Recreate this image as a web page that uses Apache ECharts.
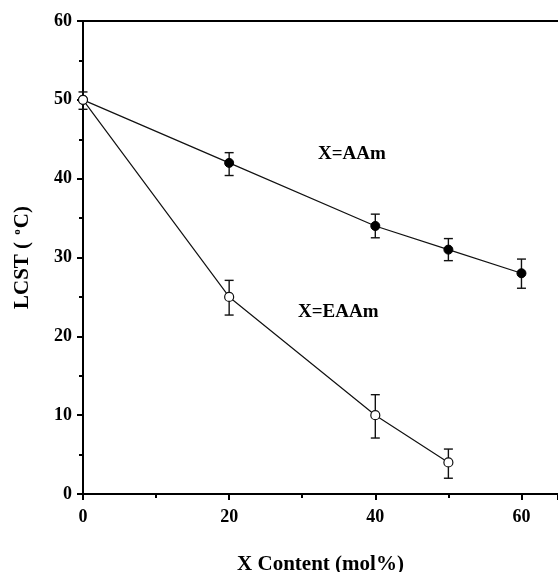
<!DOCTYPE html>
<html>
<head>
<meta charset="utf-8">
<script src="https://cdn.jsdelivr.net/npm/echarts@6/dist/echarts.min.js"></script>
<style>
  html, body { margin: 0; padding: 0; background: #fff; }
  #chart { width: 558px; height: 572px; }
</style>
</head>
<body>
<div id="chart"></div>
<script>
// data
const aamX = [0, 20, 40, 50, 60]
const aamLcst = [50, 42, 34, 31, 28]
const aamLow = [null, 40.4, 32.5, 29.6, 26.1]
const aamHigh = [null, 43.3, 35.5, 32.4, 29.8]

const eaamX = [0, 20, 40, 50]
const eaamLcst = [50, 25, 10, 4]
const eaamLow = [48.8, 22.7, 7.1, 2.0]
const eaamHigh = [51.0, 27.1, 12.6, 5.7]

const xTicks = [0, 20, 40, 60]
const yTicks = [0, 10, 20, 30, 40, 50, 60]

const FONT = '"Liberation Serif", "DejaVu Serif", serif'

function pairs(xs, ys) {
    return xs.map((x, i) => [x, ys[i]])
}
function errData(xs, lo, hi) {
    const out = []
    xs.forEach((x, i) => {
        if (lo[i] != null) out.push([x, lo[i], hi[i]])
    })
    return out
}

function renderErr(params, api) {
    const top = api.coord([api.value(0), api.value(2)])
    const bot = api.coord([api.value(0), api.value(1)])
    const w = 4.5
    const st = { stroke: '#111', lineWidth: 1.4 }
    return {
        type: 'group',
        children: [
            { type: 'line', shape: { x1: top[0], y1: top[1], x2: bot[0], y2: bot[1] }, style: st },
            { type: 'line', shape: { x1: top[0] - w, y1: top[1], x2: top[0] + w, y2: top[1] }, style: st },
            { type: 'line', shape: { x1: bot[0] - w, y1: bot[1], x2: bot[0] + w, y2: bot[1] }, style: st }
        ]
    }
}

var chart = echarts.init(document.getElementById('chart'))

var option = {
    animation: false,
    backgroundColor: '#fff',
    grid: {
        left: 83,
        right: 0,
        top: 21,
        bottom: 78,
        containLabel: false,
        outerBoundsMode: 'none'
    },
    xAxis: [{
        type: 'value',
        min: 0,
        max: 65,
        interval: 20,
        name: 'X Content (mol%)',
        nameLocation: 'middle',
        nameGap: 60,
        nameTextStyle: { fontFamily: FONT, fontWeight: 'bold', fontSize: 21, color: '#000' },
        axisLine: { show: true, onZero: false, lineStyle: { color: '#000', width: 2 } },
        axisTick: { show: true, length: 6, lineStyle: { color: '#000', width: 2 } },
        minorTick: { show: true, splitNumber: 2, length: 4, lineStyle: { color: '#000', width: 2 } },
        axisLabel: {
            margin: 14,
            fontFamily: FONT, fontWeight: 'bold', fontSize: 18, color: '#000',
            showMaxLabel: false,
            formatter: v => xTicks.indexOf(v) >= 0 ? String(v) : ''
        },
        splitLine: { show: false }
    }, {
        type: 'value',
        position: 'top',
        min: 0,
        max: 65,
        axisLine: { show: true, onZero: false, lineStyle: { color: '#000', width: 2 } },
        axisTick: { show: false },
        axisLabel: { show: false },
        splitLine: { show: false }
    }],
    yAxis: {
        type: 'value',
        min: 0,
        max: 60,
        interval: 10,
        name: 'LCST ( {sup|o}C)',
        nameLocation: 'middle',
        nameGap: 50,
        nameTextStyle: {
            fontFamily: FONT, fontWeight: 'bold', fontSize: 21, color: '#000',
            rich: {
                sup: { fontFamily: FONT, fontSize: 11, fontWeight: 'bold', color: '#000', verticalAlign: 'top', padding: [0, 1, 8, 2] }
            }
        },
        axisLine: { show: true, onZero: false, lineStyle: { color: '#000', width: 2 } },
        axisTick: { show: true, length: 6, lineStyle: { color: '#000', width: 2 } },
        minorTick: { show: true, splitNumber: 2, length: 4, lineStyle: { color: '#000', width: 2 } },
        axisLabel: {
            margin: 11,
            fontFamily: FONT, fontWeight: 'bold', fontSize: 18, color: '#000',
            formatter: v => yTicks.indexOf(v) >= 0 ? String(v) : ''
        },
        splitLine: { show: false }
    },
    series: [{
        name: 'X=AAm',
        type: 'line',
        data: pairs(aamX, aamLcst),
        symbol: 'circle',
        symbolSize: 9,
        itemStyle: { color: '#000', borderColor: '#000' },
        lineStyle: { color: '#111', width: 1.2 },
        z: 2
    }, {
        name: 'AAm err',
        type: 'custom',
        renderItem: renderErr,
        data: errData(aamX, aamLow, aamHigh),
        z: 1
    }, {
        name: 'X=EAAm',
        type: 'line',
        data: pairs(eaamX, eaamLcst),
        symbol: 'circle',
        symbolSize: 9,
        itemStyle: { color: '#fff', borderColor: '#111', borderWidth: 1.2 },
        lineStyle: { color: '#111', width: 1.2 },
        z: 3
    }, {
        name: 'EAAm err',
        type: 'custom',
        renderItem: renderErr,
        data: errData(eaamX, eaamLow, eaamHigh),
        z: 1
    }],
    graphic: [{
        type: 'text',
        left: 318,
        top: 145,
        style: { text: 'X=AAm', font: 'bold 19px ' + FONT, fill: '#000' }
    }, {
        type: 'text',
        left: 298,
        top: 303,
        style: { text: 'X=EAAm', font: 'bold 19px ' + FONT, fill: '#000' }
    }]
}

chart.setOption(option)
</script>
</body>
</html>
